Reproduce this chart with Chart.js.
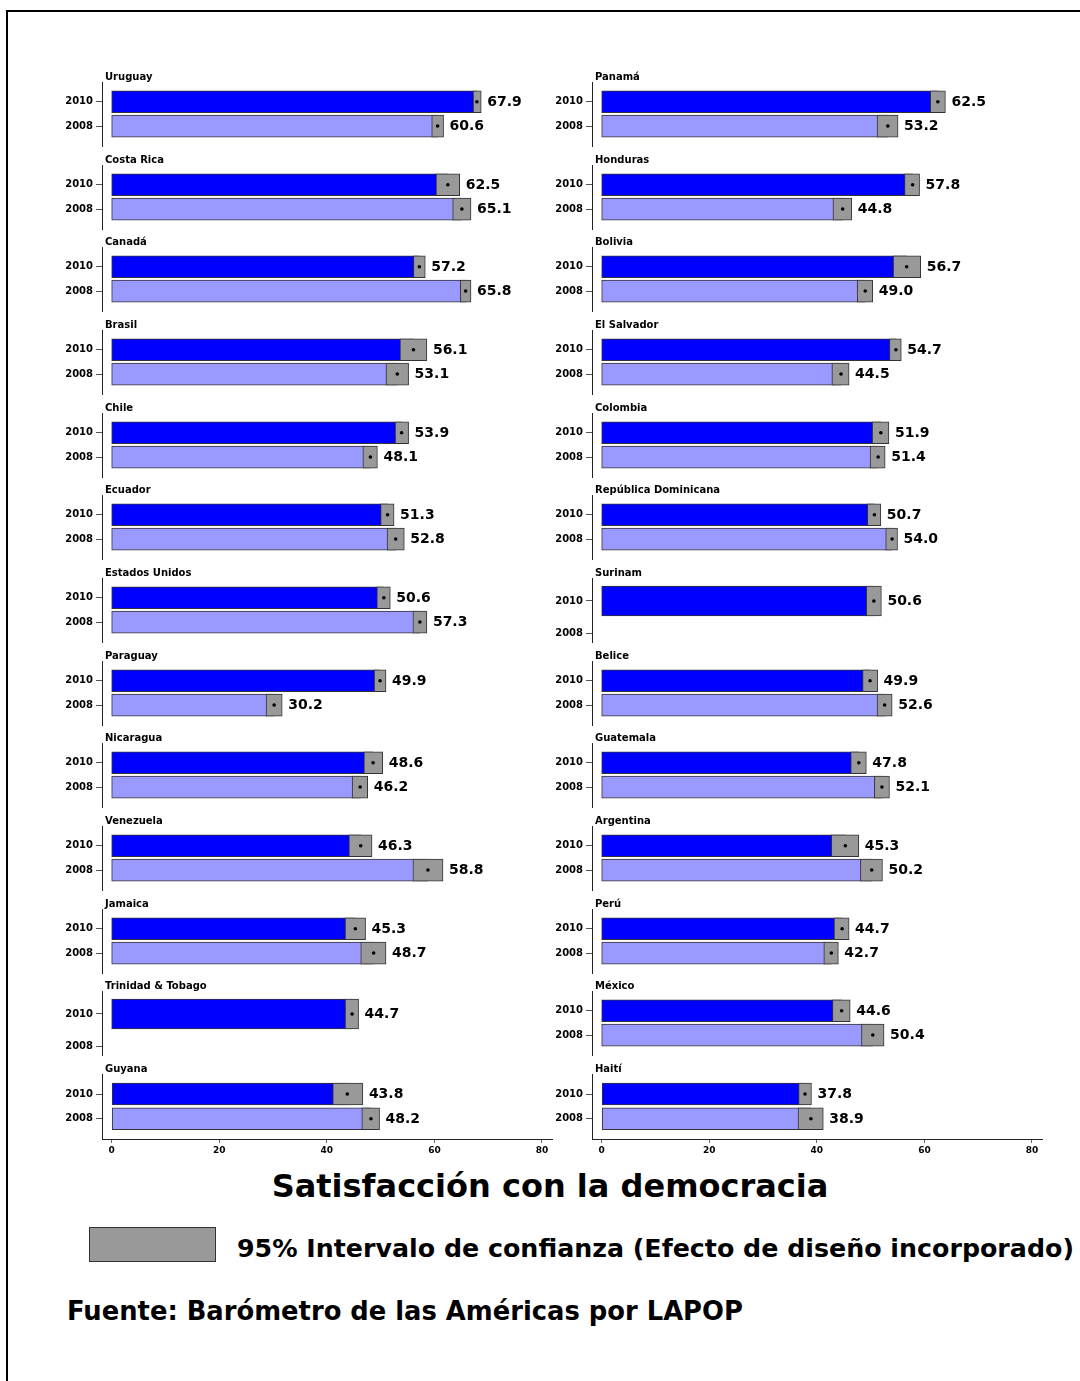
<!DOCTYPE html>
<html><head><meta charset="utf-8">
<script src="https://cdn.jsdelivr.net/npm/chart.js@4.4.1/dist/chart.umd.min.js"></script>
<style>
html,body{margin:0;padding:0;background:#fff;width:1080px;height:1381px;overflow:hidden;}
#page{position:relative;width:1080px;height:1381px;overflow:hidden;font-family:"DejaVu Sans",sans-serif;background:#fff;}
#frame{position:absolute;left:6px;top:10px;width:1200px;height:1500px;border:2px solid #000;}
canvas{position:absolute;}
.txt{position:absolute;white-space:nowrap;font-weight:bold;color:#000;line-height:1;}
</style></head><body><div id="page"><div id="frame"></div>
<div class="txt" id="title" style="left:550px;top:1170px;font-size:32px;transform:translateX(-50%)">Satisfacción con la democracia</div>
<div id="legbox" style="position:absolute;left:89px;top:1227px;width:125px;height:33px;background:#999999;border:1px solid #333"></div>
<div class="txt" style="left:237px;top:1236px;font-size:25.3px">95% Intervalo de confianza (Efecto de diseño incorporado)</div>
<div class="txt" style="left:67px;top:1299px;font-size:25.8px">Fuente: Barómetro de las Américas por LAPOP</div>
</div>
<script>
// ---- data ----
const years = ['2010', '2008'];
const xTicks = [0, 20, 40, 60, 80];

const leftCountries = ['Uruguay','Costa Rica','Canadá','Brasil','Chile','Ecuador','Estados Unidos','Paraguay','Nicaragua','Venezuela','Jamaica','Trinidad & Tobago','Guyana'];
const left2010     = [67.9,62.5,57.2,56.1,53.9,51.3,50.6,49.9,48.6,46.3,45.3,44.7,43.8];
const left2010Low  = [67.2,60.3,56.1,53.6,52.7,50.0,49.3,48.8,46.9,44.1,43.4,43.4,41.1];
const left2010High = [68.7,64.7,58.3,58.6,55.2,52.5,51.8,51.0,50.4,48.4,47.2,45.9,46.7];
const left2008     = [60.6,65.1,65.8,53.1,48.1,52.8,57.3,30.2,46.2,58.8,48.7,null,48.2];
const left2008Low  = [59.5,63.4,64.8,51.0,46.7,51.2,56.0,28.7,44.7,56.0,46.3,null,46.5];
const left2008High = [61.7,66.8,66.8,55.2,49.4,54.4,58.6,31.7,47.6,61.6,51.0,null,49.8];

const rightCountries = ['Panamá','Honduras','Bolivia','El Salvador','Colombia','República Dominicana','Surinam','Belice','Guatemala','Argentina','Perú','México','Haití'];
const right2010     = [62.5,57.8,56.7,54.7,51.9,50.7,50.6,49.9,47.8,45.3,44.7,44.6,37.8];
const right2010Low  = [61.1,56.3,54.2,53.5,50.3,49.4,49.2,48.5,46.3,42.7,43.2,42.9,36.6];
const right2010High = [63.9,59.1,59.3,55.7,53.4,51.9,52.0,51.3,49.2,47.8,46.0,46.2,39.0];
const right2008     = [53.2,44.8,49.0,44.5,51.4,54.0,null,52.6,52.1,50.2,42.7,50.4,38.9];
const right2008Low  = [51.2,43.0,47.5,42.8,49.9,52.8,null,51.2,50.7,48.1,41.3,48.3,36.5];
const right2008High = [55.1,46.5,50.4,46.0,52.7,55.0,null,54.0,53.5,52.2,44.0,52.5,41.2];

// ---- rendering ----
Chart.defaults.font.family = '"DejaVu Sans", sans-serif';
Chart.defaults.font.weight = 'bold';
Chart.defaults.color = '#000';

const page = document.getElementById('page');

const groupLabel = {
  id: 'groupLabel',
  afterDraw(chart, args, opts) {
    const {ctx, chartArea} = chart;
    ctx.save();
    ctx.fillStyle = '#000';
    ctx.textAlign = 'left';
    ctx.font = 'bold 10px "DejaVu Sans"';
    ctx.textBaseline = 'alphabetic';
    ctx.fillText(opts.text, chartArea.left + 3, chartArea.top - 2.5);
    const ciMeta = chart.getDatasetMeta(1);
    const vals = chart.data.datasets[2].data;
    ctx.font = 'bold 14px "DejaVu Sans"';
    ctx.textBaseline = 'middle';
    ciMeta.data.forEach((el, i) => {
      const right = Math.max(el.x, el.base);
      ctx.fillText(vals[i].x.toFixed(1), right + 6, el.y + 0.5);
    });
    ctx.restore();
  }
};

const AXIS_TOP0 = 82, STEP = 82.67, PLOT_H = 65, PAD_TOP = 22, CW = 560;

function makeGroup(colLeft, i, name, v10, l10, h10, v08, l08, h08, isLast) {
  const single = (v08 === null);
  const axisTop = Math.round(AXIS_TOP0 + i * STEP);
  const xH = isLast ? 28 : 0;
  const padBottom = isLast ? 0 : 8;
  const h = PAD_TOP + PLOT_H + xH + padBottom;
  const cv = document.createElement('canvas');
  cv.width = CW; cv.height = h;
  cv.style.left = colLeft + 'px';
  cv.style.top = (axisTop - PAD_TOP) + 'px';
  cv.style.width = CW + 'px'; cv.style.height = h + 'px';
  page.appendChild(cv);

  const main = [{x: v10, y: 0}];
  const ci = [{x: [l10, h10], y: 0}];
  const colors = ['#0000FF'];
  if (!single) {
    main.push({x: v08, y: 1});
    ci.push({x: [l08, h08], y: 1});
    colors.push('#9999FF');
  }
  const thick = single ? 30 : 22;

  new Chart(cv, {
    type: 'bar',
    data: {
      datasets: [
        {type: 'scatter', data: main.map(p => ({x: p.x, y: p.y})), pointRadius: 1.8,
         pointBackgroundColor: '#000', pointBorderWidth: 0, xAxisID: 'x', yAxisID: 'y'},
        {type: 'bar', data: ci, backgroundColor: '#999999', borderColor: '#333',
         borderWidth: 1, borderSkipped: false, barThickness: thick, grouped: false},
        {type: 'bar', data: main, backgroundColor: colors, borderColor: '#333',
         borderWidth: 1, borderSkipped: false, barThickness: thick, grouped: false}
      ]
    },
    options: {
      indexAxis: 'y', responsive: false, animation: false, devicePixelRatio: 1,
      layout: {padding: {top: PAD_TOP, left: 0, right: 8, bottom: padBottom}},
      plugins: {legend: {display: false}, tooltip: {enabled: false}, groupLabel: {text: name}},
      scales: {
        x: {
          type: 'linear', min: -1.8, max: 81.86, display: isLast, offset: false,
          afterBuildTicks: s => { s.ticks = xTicks.map(v => ({value: v})); },
          afterFit: s => { s.height = xH; },
          grid: {drawOnChartArea: false, tickLength: 4, color: '#666', offset: false},
          border: {display: true, color: '#222', width: 1},
          ticks: {font: {size: 9, weight: 'bold'}, padding: 2, color: '#000', maxRotation: 0}
        },
        y: {
          type: 'linear', reverse: true, offset: false,
          min: single ? -0.70 : -0.81, max: single ? 1.25 : 1.82,
          afterBuildTicks: s => { s.ticks = years.map((_, k) => ({value: k})); },
          afterFit: s => { s.width = 102; },
          grid: {drawOnChartArea: false, tickLength: 6, color: '#555', offset: false},
          border: {display: true, color: '#222', width: 1},
          ticks: {font: {size: 10, weight: 'bold'}, padding: 3, color: '#000',
                  callback: v => years[v] !== undefined ? years[v] : ''}
        }
      }
    },
    plugins: [groupLabel]
  });
}

leftCountries.forEach((c, i) => makeGroup(0, i, c, left2010[i], left2010Low[i], left2010High[i],
  left2008[i], left2008Low[i], left2008High[i], i === leftCountries.length - 1));
rightCountries.forEach((c, i) => makeGroup(490, i, c, right2010[i], right2010Low[i], right2010High[i],
  right2008[i], right2008Low[i], right2008High[i], i === rightCountries.length - 1));
</script>
</body></html>
